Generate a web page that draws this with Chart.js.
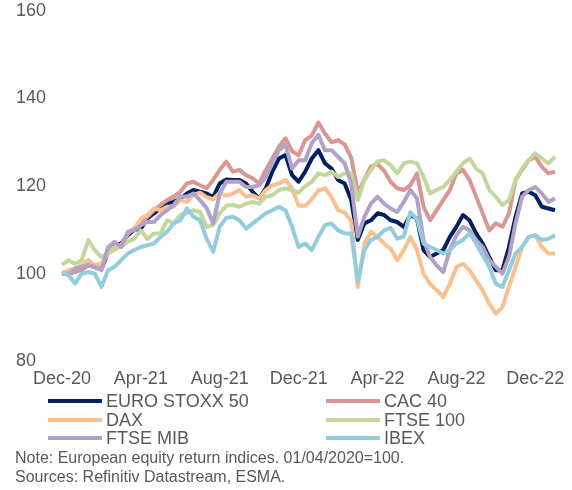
<!DOCTYPE html>
<html>
<head>
<meta charset="utf-8">
<script src="https://cdn.jsdelivr.net/npm/chart.js@4.4.1/dist/chart.umd.min.js"></script>
<style>
  body { margin: 0; background: #fff; font-family: "Liberation Sans", Arial, sans-serif; color: #595959; }
  #wrap { width: 572px; height: 397px; }
  #legend { display: grid; grid-template-columns: 278px auto; padding-left: 48px; margin-top: -5px; }
  .item { display: flex; align-items: center; font-size: 18px; line-height: 18.5px; height: 18.5px; }
  .swatch { width: 54px; height: 4px; margin-right: 4px; }
  .note { font-size: 16px; line-height: 19px; padding-left: 15px; }
</style>
</head>
<body>
<div id="wrap"><canvas id="chart" width="572" height="397"></canvas></div>
<div id="legend"></div>
<div class="note">Note: European equity return indices. 01/04/2020=100.</div>
<div class="note">Sources: Refinitiv Datastream, ESMA.</div>
<script>
// three readings per month, Dec-20 .. Jan-23
const periods = [
  "Dec-20", "Dec-20", "Dec-20", "Jan-21", "Jan-21", "Jan-21", "Feb-21", "Feb-21", "Feb-21",
  "Mar-21", "Mar-21", "Mar-21", "Apr-21", "Apr-21", "Apr-21", "May-21", "May-21", "May-21",
  "Jun-21", "Jun-21", "Jun-21", "Jul-21", "Jul-21", "Jul-21", "Aug-21", "Aug-21", "Aug-21",
  "Sep-21", "Sep-21", "Sep-21", "Oct-21", "Oct-21", "Oct-21", "Nov-21", "Nov-21", "Nov-21",
  "Dec-21", "Dec-21", "Dec-21", "Jan-22", "Jan-22", "Jan-22", "Feb-22", "Feb-22", "Feb-22",
  "Mar-22", "Mar-22", "Mar-22", "Apr-22", "Apr-22", "Apr-22", "May-22", "May-22", "May-22",
  "Jun-22", "Jun-22", "Jun-22", "Jul-22", "Jul-22", "Jul-22", "Aug-22", "Aug-22", "Aug-22",
  "Sep-22", "Sep-22", "Sep-22", "Oct-22", "Oct-22", "Oct-22", "Nov-22", "Nov-22", "Nov-22",
  "Dec-22", "Dec-22", "Dec-22", "Jan-23"
];
const xTickLabels = ["Dec-20", "Apr-21", "Aug-21", "Dec-21", "Apr-22", "Aug-22", "Dec-22"];
const yTicks = [80, 100, 120, 140, 160];

const euroStoxx50 = [
  100, 100, 100.5, 101, 102, 101.5, 101, 105, 106.5, 106.9, 108.8, 110, 110.3, 112.6, 113.8, 114.9,
  116.1, 116.4, 117.2, 118.3, 119.1, 118.7, 118.3, 117.5, 120.6, 121.5,
  121.4, 121.4, 120.6, 118.7, 117.2, 119.5, 123.3, 126.3, 127.1, 122.5, 121, 123.3, 126.3, 128.2,
  125.2, 124, 121.4, 120.6, 116.8, 107.7, 111.5, 112.2, 113.8, 113.4, 112.2,
  111.8, 110.7, 113.4, 112.6, 105.4, 103.8, 104.6, 105.4, 108.4, 110.7, 113.4, 112.2, 109.2, 106.9,
  103.8, 100.8, 100.8, 106.1, 113, 118.3, 118.7, 117.9, 115.3, 114.9, 114.5
];
const cac40 = [
  100, 100, 100.5, 101, 102, 101.5, 101.5, 105.4, 106, 106.5, 109.2, 110.5, 111.5, 113, 114.5, 115.7,
  116.8, 117.6, 118.7, 120.6, 121, 120.2, 119.5, 121.4, 123.7, 125.6,
  123.3, 123.7, 122.5, 121.8, 120.6, 123.7, 126.3, 129, 130.9, 128, 127, 130.5, 131.5, 134.5,
  132, 130, 130.5, 129.5, 126.5, 118.5, 121.5, 124.5, 125, 123.5, 121,
  119.5, 119.1, 120.2, 122.9, 115.3, 112.2, 114.5, 116.8, 119.1, 122.9, 123.7, 121.4, 117.6, 113.8,
  109.9, 111.5, 110.7, 113.8, 121.4, 123.7, 125.9, 126.7, 124.4, 122.9, 123.3
];
const dax = [
  100, 100.8, 101.2, 101.9, 103.1, 101.9, 102.3, 104.6, 105.4, 106.5, 109.2, 110.3, 112.6, 113.4, 114.9, 114.5,
  115.3, 115.3, 116.8, 116.4, 118, 118.5, 117.5, 117, 118.5, 117.8,
  118.3, 119.1, 117.6, 117.9, 117.2, 119.1, 120.2, 120.6, 121.4, 119.5, 115.5, 115.5, 117, 119,
  119.5, 117.5, 114.5, 114, 112, 97, 106.9, 109.6, 108.4, 106.9, 105.7,
  103.1, 105.4, 108.4, 105.4, 100, 97.7, 96.2, 94.7, 97.7, 101.5, 102.3, 100.8, 98.5, 96.2,
  93.2, 90.9, 92.4, 97, 101.5, 106.1, 108.4, 108.8, 106.1, 104.6, 104.6
];
const ftse100 = [
  102, 103.1, 102.3, 103.1, 107.7, 105.4, 103.8, 104.6, 106.1, 106.1, 107.3, 108, 109.9, 108, 109.2, 109.2,
  112.2, 111.5, 113.4, 113.8, 114.5, 114.1, 110.7, 111.1, 113.8, 115.5,
  115.7, 115.3, 116, 116.4, 116, 117.6, 117.9, 119.1, 119.5, 119, 118.5, 120, 121, 122.9,
  122.5, 123.3, 122.1, 122.9, 122.9, 116.8, 121.4, 123.7, 125.6, 125.9, 124.8,
  122.9, 125.2, 125.6, 125.2, 122.1, 118.3, 119.1, 119.8, 121.4, 123.3, 125.2, 126.3, 124, 122.9,
  119.1, 117.6, 115.7, 116.8, 121.4, 124, 125.9, 127.5, 126.3, 125.2, 126.7
];
const ftseMib = [
  100, 100, 101.2, 101.6, 101.9, 101.6, 100.8, 106.1, 107.3, 106.1, 109.6, 109.9, 111.1, 111.8, 111.8, 113.4,
  114.5, 115.7, 117.6, 117.6, 118.3, 116.8, 115, 111.5, 118.3, 121,
  121, 121, 119.8, 119.8, 120.2, 122.1, 125.2, 128.2, 129.4, 124, 125.9, 125.9, 129.8, 131.7,
  128.2, 128.2, 126.7, 125.2, 120.6, 108.5, 113, 116, 117.6, 116, 114.9,
  114.1, 116.4, 119.1, 117.2, 107.7, 103.8, 101.9, 100.4, 105.4, 108.8, 110.7, 109.9, 107.7, 106.1,
  103.1, 101.6, 100, 103.8, 111.5, 117.6, 119.1, 119.8, 118.3, 116.4, 117.2
];
const ibex = [
  100.5, 99.6, 97.8, 100, 100.4, 100, 97, 100.8, 101.6, 103.1, 104.6, 105.4, 106.1, 106.5, 106.9, 108.4,
  109.6, 111.5, 112.2, 114.9, 113, 112.2, 108, 105, 110.7, 112.8,
  113, 112.2, 110.3, 111.5, 112.6, 113.8, 114.5, 115.3, 114.5, 110.7, 106.1, 106.9, 105.4, 108.4,
  111.1, 111.5, 109.9, 109.2, 109.2, 98.2, 105.4, 107.7, 108.4, 109.9, 110.5,
  108, 108.5, 114, 112.5, 106.9, 106.1, 105.4, 104.6, 105.4, 106.9, 107.7, 109.2, 106.9, 104.2,
  101.6, 97.7, 97, 100.8, 104.6, 106.1, 108.4, 108.8, 107.7, 108, 108.8
];

const seriesNames = ["EURO STOXX 50", "CAC 40", "DAX", "FTSE 100", "FTSE MIB", "IBEX"];
const seriesColors = ["#002060", "#d99694", "#fac090", "#c3d69b", "#b3a2c7", "#93cddd"];
const seriesData = [euroStoxx50, cac40, dax, ftse100, ftseMib, ibex];

const textColor = "#595959";
const fontFamily = '"Liberation Sans", Arial, sans-serif';

const datasets = seriesNames.map((name, i) => ({
  label: name,
  data: seriesData[i],
  borderColor: seriesColors[i],
  backgroundColor: seriesColors[i],
  borderWidth: 4,
  borderJoinStyle: "round",
  pointRadius: 0,
  tension: 0,
  fill: false,
  order: seriesNames.length - i, // later series drawn on top, as in the source
}));

new Chart(document.getElementById("chart"), {
  type: "line",
  data: { labels: periods, datasets: datasets },
  options: {
    responsive: false,
    animation: false,
    layout: { padding: { left: 16, right: 17, top: 0, bottom: 0 } },
    plugins: {
      legend: { display: false },
      tooltip: { enabled: false },
    },
    scales: {
      x: {
        grid: { display: false, drawTicks: false },
        border: { display: false },
        afterBuildTicks: scale => {
          // one label every four months, on the first reading of the month
          scale.ticks = scale.ticks.filter(t => xTickLabels.includes(periods[t.value]) && periods[t.value] !== periods[t.value - 1]);
        },
        ticks: {
          autoSkip: false,
          maxRotation: 0,
          minRotation: 0,
          padding: 7,
          color: textColor,
          font: { family: fontFamily, size: 18 },
        },
      },
      y: {
        min: 80,
        max: 160,
        grid: { display: false, drawTicks: false },
        border: { display: false },
        afterFit: scale => { scale.width = 46; },
        afterBuildTicks: scale => {
          scale.ticks = yTicks.map(v => ({ value: v }));
        },
        ticks: {
          padding: 0,
          crossAlign: "far",
          color: textColor,
          font: { family: fontFamily, size: 18 },
        },
      },
    },
  },
});

// legend in two columns, as in the source
const legend = document.getElementById("legend");
seriesNames.forEach((name, i) => {
  const item = document.createElement("div");
  item.className = "item";
  const sw = document.createElement("span");
  sw.className = "swatch";
  sw.style.background = seriesColors[i];
  item.appendChild(sw);
  item.appendChild(document.createTextNode(name));
  legend.appendChild(item);
});
</script>
</body>
</html>
